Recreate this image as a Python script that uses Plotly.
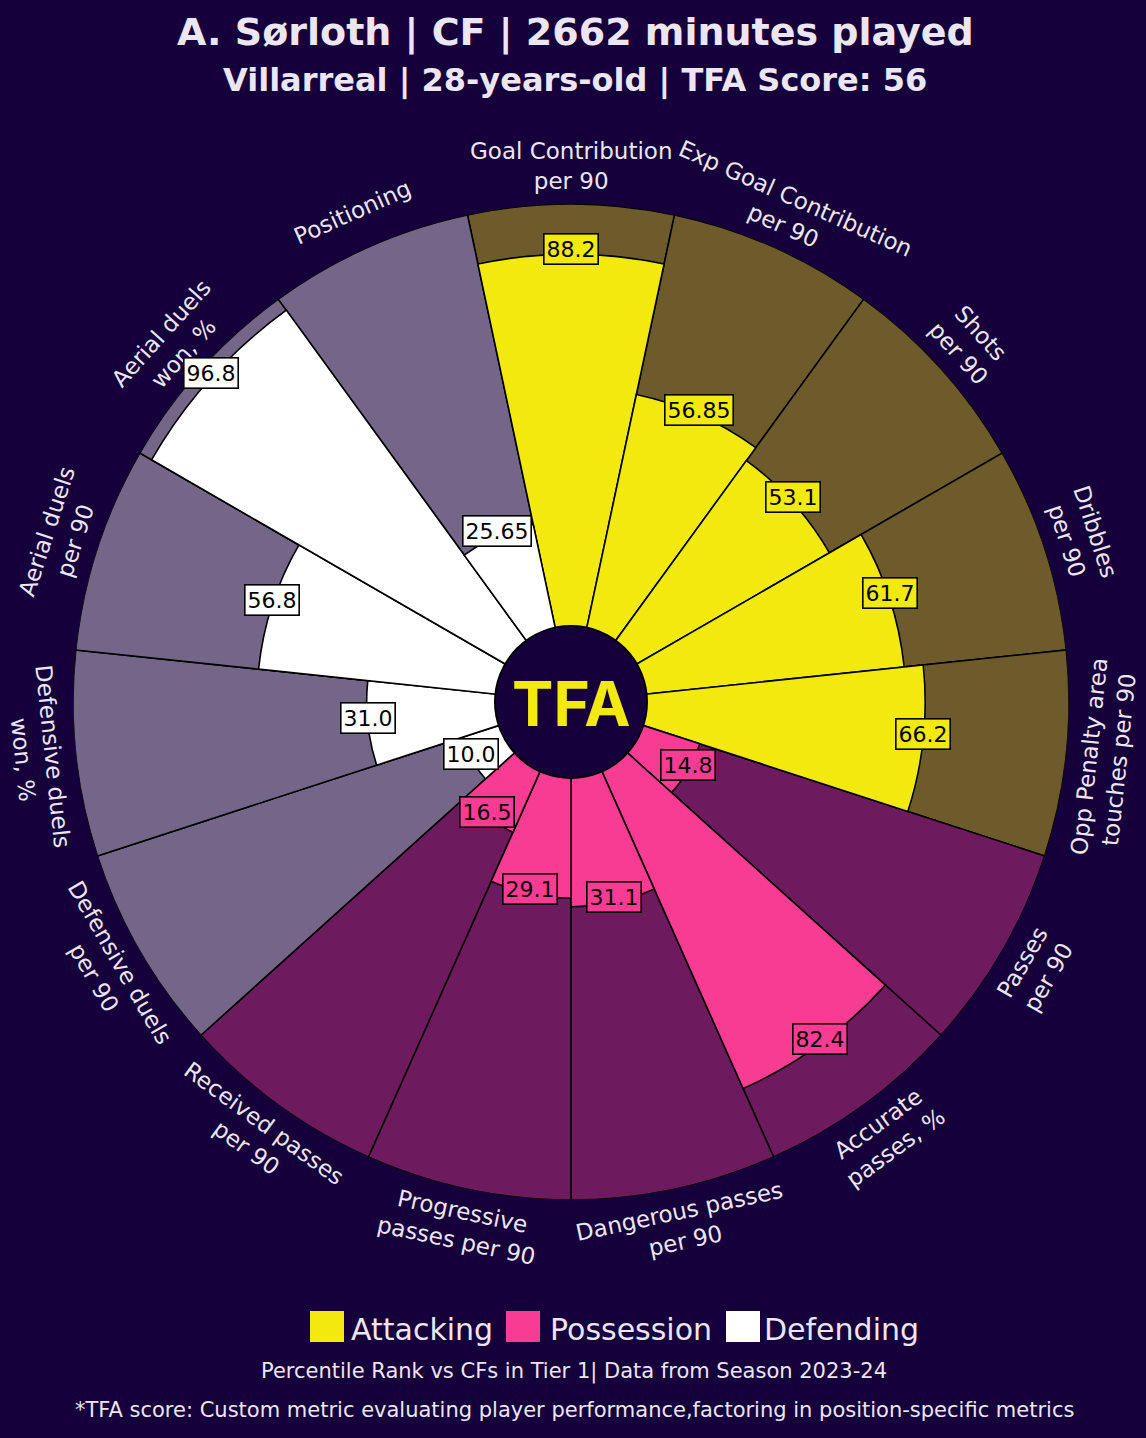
import math
import plotly.graph_objects as go

# ---------------- data ----------------
categories = [
    "Goal Contribution<br>per 90", "Exp Goal Contribution<br>per 90", "Shots<br>per 90",
    "Dribbles<br>per 90", "Opp Penalty area<br>touches per 90", "Passes<br>per 90",
    "Accurate<br>passes, %", "Dangerous passes<br>per 90", "Progressive<br>passes per 90",
    "Received passes<br>per 90", "Defensive duels<br>per 90", "Defensive duels<br>won, %",
    "Aerial duels<br>per 90", "Aerial duels<br>won, %", "Positioning",
]
values = [88.2, 56.85, 53.1, 61.7, 66.2, 14.8, 82.4, 31.1, 29.1, 16.5, 10.0, 31.0, 56.8, 96.8, 25.65]
value_labels = ["88.2", "56.85", "53.1", "61.7", "66.2", "14.8", "82.4", "31.1", "29.1",
                "16.5", "10.0", "31.0", "56.8", "96.8", "25.65"]
groups = ["Attacking"] * 5 + ["Possession"] * 5 + ["Defending"] * 5
group_names = ["Attacking", "Possession", "Defending"]
grid_values = [20, 40, 60, 80]

# ---------------- style ----------------
W, H = 1146, 1438
BG = "#16003b"
TXT = "#ece6f2"
bar_color = {"Attacking": "#f2e90e", "Possession": "#f83c94", "Defending": "#ffffff"}
back_color = {"Attacking": "#6e5b2c", "Possession": "#6e1a5e", "Defending": "#736688"}
FONT = "DejaVu Sans"
TFONT = "DejaVu Sans"

CX, CY, R = 571, 702, 498      # polar centre / outer radius in pixels
HOLE = 0.1454
STEP = 360 / len(values)
thetas = [i * STEP for i in range(len(values))]

dom_x = [(CX - R) / W, (CX + R) / W]
dom_y = [1 - (CY + R) / H, 1 - (CY - R) / H]


def px_to_paper(x, y):
    return x / W, 1 - y / H


def polar_px(theta, rpx):
    t = math.radians(theta)
    return CX + rpx * math.sin(t), CY - rpx * math.cos(t)


def r_of_value(v):
    r0 = HOLE * R
    return r0 + (R - r0) * v / 100.0


fig = go.Figure()

# background slices (polar)
fig.add_trace(go.Barpolar(
    r=[100] * len(values), theta=thetas, width=[STEP] * len(values),
    marker=dict(color=[back_color[g] for g in groups], line=dict(color="black", width=1.6)),
    subplot="polar", hoverinfo="skip", showlegend=False,
))
# value bars (polar2, drawn on top of grid)
fig.add_trace(go.Barpolar(
    r=values, theta=thetas, width=[STEP] * len(values),
    marker=dict(color=[bar_color[g] for g in groups], line=dict(color="black", width=1.6)),
    subplot="polar2", showlegend=False,
    hovertext=[c.replace("<br>", " ") for c in categories], hoverinfo="text+r",
))

common_ang = dict(rotation=90, direction="clockwise", showgrid=False, showline=False,
                  showticklabels=False, ticks="")
fig.update_layout(
    polar=dict(
        domain=dict(x=dom_x, y=dom_y), hole=HOLE, bgcolor="rgba(0,0,0,0)",
        radialaxis=dict(range=[0, 100], tickvals=grid_values, showticklabels=False, ticks="",
                        showline=False, showgrid=True, gridcolor="#9a9a9a", griddash="dashdot",
                        gridwidth=1.6, layer="above traces"),
        angularaxis=common_ang, bargap=0,
    ),
    polar2=dict(
        domain=dict(x=dom_x, y=dom_y), hole=HOLE, bgcolor="rgba(0,0,0,0)",
        radialaxis=dict(range=[0, 100], showticklabels=False, ticks="", showline=False, showgrid=False),
        angularaxis=common_ang, bargap=0,
    ),
)

annotations = []
shapes = []

# category labels
for th, cat in zip(thetas, categories):
    x, y = polar_px(th, 536)
    if th > 270:
        ang = th - 360
    elif th >= 90:
        ang = th - 180
    else:
        ang = th
    px, py = px_to_paper(x, y)
    annotations.append(dict(x=px, y=py, xref="paper", yref="paper", text=cat, showarrow=False,
                            textangle=ang, xanchor="center", yanchor="middle",
                            font=dict(family=FONT, size=23, color=TXT), align="center"))

# value labels
for th, v, lab, g in zip(thetas, values, value_labels, groups):
    x, y = polar_px(th, r_of_value(v))
    px, py = px_to_paper(x, y - 5)
    annotations.append(dict(x=px, y=py, xref="paper", yref="paper", text=lab, showarrow=False,
                            xanchor="center", yanchor="middle", bgcolor=bar_color[g],
                            bordercolor="black", borderwidth=1.6, borderpad=2,
                            font=dict(family=FONT, size=22, color="black")))

# centre logo
shapes.append(dict(type="circle", xref="paper", yref="paper",
                   x0=(CX - 76) / W, x1=(CX + 76) / W, y0=1 - (CY + 76) / H, y1=1 - (CY - 76) / H,
                   fillcolor=BG, line=dict(color="black", width=2), layer="above"))
annotations.append(dict(x=CX / W, y=1 - (CY + 2) / H, xref="paper", yref="paper", text="<b>TFA</b>",
                        showarrow=False, font=dict(family="Inter", size=62, color="#f2e90e"),
                        xanchor="center", yanchor="middle"))

# titles
annotations.append(dict(x=575 / W, y=1 - 33 / H, xref="paper", yref="paper",
                        text="<b>A. Sørloth | CF | 2662 minutes played</b>", showarrow=False,
                        font=dict(family=TFONT, size=38, color=TXT), xanchor="center", yanchor="middle"))
annotations.append(dict(x=575 / W, y=1 - 81 / H, xref="paper", yref="paper",
                        text="<b>Villarreal | 28-years-old | TFA Score: 56</b>", showarrow=False,
                        font=dict(family=TFONT, size=32, color=TXT), xanchor="center", yanchor="middle"))

# legend
leg_x = [310, 506, 726]
leg_txt_x = [349, 548, 762]
for gx, tx, gname in zip(leg_x, leg_txt_x, group_names):
    shapes.append(dict(type="rect", xref="paper", yref="paper",
                       x0=gx / W, x1=(gx + 34) / W, y0=1 - 1342 / H, y1=1 - 1311 / H,
                       fillcolor=bar_color[gname], line=dict(color=BG, width=0)))
    annotations.append(dict(x=tx / W, y=1 - 1329 / H, xref="paper", yref="paper", text=gname,
                            showarrow=False, xanchor="left", yanchor="middle",
                            font=dict(family=FONT, size=30, color=TXT)))

annotations.append(dict(x=574 / W, y=1 - 1371 / H, xref="paper", yref="paper",
                        text="Percentile Rank vs CFs in Tier 1| Data from Season 2023-24",
                        showarrow=False, font=dict(family=FONT, size=21, color=TXT),
                        xanchor="center", yanchor="middle"))
annotations.append(dict(x=574 / W, y=1 - 1410 / H, xref="paper", yref="paper",
                        text="*TFA score: Custom metric evaluating player performance,factoring in position-specific metrics",
                        showarrow=False, font=dict(family=FONT, size=21, color=TXT),
                        xanchor="center", yanchor="middle"))

fig.update_layout(
    width=W, height=H, margin=dict(l=0, r=0, t=0, b=0),
    paper_bgcolor=BG, plot_bgcolor=BG, showlegend=False,
    annotations=annotations, shapes=shapes,
)

fig.write_html("out.html", config={"displayModeBar": False},
               post_script="document.body.style.margin='0';document.body.style.background='%s';" % BG)
